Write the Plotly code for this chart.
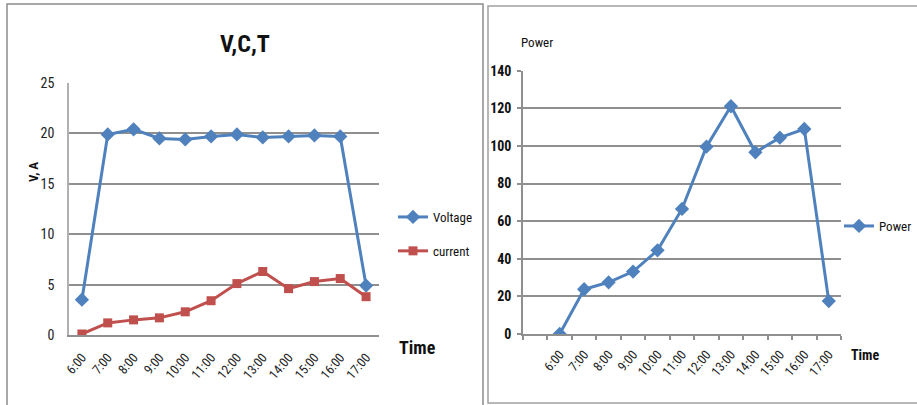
import plotly.graph_objects as go

# Hourly readings
times = ["6:00", "7:00", "8:00", "9:00", "10:00", "11:00", "12:00",
         "13:00", "14:00", "15:00", "16:00", "17:00"]
voltage = [3.5, 19.9, 20.4, 19.5, 19.4, 19.7, 19.9, 19.6, 19.7, 19.8, 19.7, 4.9]
current = [0.1, 1.2, 1.5, 1.7, 2.3, 3.4, 5.1, 6.3, 4.6, 5.3, 5.6, 3.8]
power = [0, 23.8, 27.5, 33.2, 44.5, 66.5, 99.6, 121.1, 96.6, 104.4, 109.0, 17.5]

# right panel has a leading blank category slot
power_categories = [" "] + times

W, H = 917, 405
BLUE = "#4F81BD"
RED = "#C0504D"
GRID = "#8f8f8f"
FONT = "Liberation Sans Narrow, Arial Narrow, Roboto Condensed, Roboto"


def px(x):
    return x / W


def py(y):
    return 1 - y / H


fig = go.Figure()

fig.add_trace(go.Scatter(
    x=times, y=voltage, name="Voltage", mode="lines+markers",
    line=dict(color=BLUE, width=3),
    marker=dict(symbol="diamond", size=11, color=BLUE),
    xaxis="x", yaxis="y", legend="legend", legendgroup="v"))
fig.add_trace(go.Scatter(
    x=times, y=current, name="current", mode="lines+markers",
    line=dict(color=RED, width=3),
    marker=dict(symbol="square", size=9, color=RED),
    xaxis="x", yaxis="y", legend="legend", legendgroup="c"))
fig.add_trace(go.Scatter(
    x=times, y=power, name="Power", mode="lines+markers",
    line=dict(color=BLUE, width=3),
    marker=dict(symbol="diamond", size=11, color=BLUE),
    xaxis="x2", yaxis="y2", legend="legend2"))

tickfont = dict(family=FONT, size=14, color="#222")
xtickfont = dict(family=FONT, size=13, color="#222")


def label(text, x, y, size, angle=0, xanchor="center"):
    return dict(text=text, x=px(x), y=py(y), xref="paper", yref="paper",
                xanchor=xanchor, yanchor="middle", showarrow=False,
                textangle=angle, font=dict(family=FONT, size=size, color="#111"))


fig.update_layout(
    width=W, height=H,
    margin=dict(l=0, r=0, t=0, b=0, autoexpand=False),
    paper_bgcolor="white", plot_bgcolor="white",
    font=dict(family=FONT, color="#111"),
    xaxis=dict(
        domain=[px(69), px(379)], anchor="y", automargin=False,
        type="category", categoryorder="array", categoryarray=times,
        range=[-0.5, 11.5], tickangle=-50, tickfont=xtickfont,
        showgrid=False, showline=True, linecolor=GRID, linewidth=1.5,
        ticks="", ticklabelstandoff=8, zeroline=False),
    yaxis=dict(
        domain=[py(335), py(83)], anchor="x", automargin=False,
        range=[0, 25], dtick=5, tickfont=tickfont,
        showgrid=True, gridcolor=GRID, gridwidth=1.5,
        showline=True, linecolor="#b0b0b0", linewidth=1.5,
        ticks="", ticklabelstandoff=10, zeroline=False),
    xaxis2=dict(
        domain=[px(523), px(841)], anchor="y2", automargin=False,
        type="category", categoryorder="array", categoryarray=power_categories,
        range=[-0.5, 12.5], tickangle=-50, tickfont=xtickfont,
        tickson="boundaries", ticks="outside", ticklen=4,
        tickcolor=GRID, tickwidth=1.5,
        showgrid=False, showline=True, linecolor=GRID, linewidth=1.5,
        ticklabelstandoff=6, zeroline=False),
    yaxis2=dict(
        domain=[py(334), py(70.7)], anchor="x2", automargin=False,
        range=[0, 140], dtick=20,
        tickfont=dict(family=FONT, size=14, color="#111", weight="bold"),
        showgrid=True, gridcolor=GRID, gridwidth=1.5,
        showline=True, linecolor=GRID, linewidth=1.5,
        ticks="outside", ticklen=4, tickcolor=GRID, tickwidth=1.5,
        ticklabelstandoff=3, zeroline=False),
    legend=dict(
        x=px(393), y=py(202), xanchor="left", yanchor="top",
        font=dict(family=FONT, size=13, color="#111"),
        tracegroupgap=14, bgcolor="rgba(0,0,0,0)", itemwidth=30),
    legend2=dict(
        x=1, y=py(211), xanchor="right", yanchor="top",
        font=dict(family=FONT, size=13, color="#111"),
        bgcolor="rgba(0,0,0,0)", itemwidth=30),
    shapes=[
        dict(type="rect", xref="paper", yref="paper",
             x0=px(7), x1=px(483), y0=py(415), y1=py(4),
             line=dict(color="#8c8c8c", width=1.5)),
        dict(type="rect", xref="paper", yref="paper",
             x0=px(488), x1=px(925), y0=py(403), y1=py(6),
             line=dict(color="#a0a0a0", width=1.5)),
    ],
    annotations=[
        label("<b>V,C,T</b>", 245, 44, 24),
        label("<b>V, A</b>", 33, 172, 13, angle=-90),
        label("<b>Time</b>", 417, 347, 18),
        label("Power", 519, 42, 13, xanchor="left"),
        label("<b>Time</b>", 865, 355, 14),
    ],
)

fig.write_html("out.html")
